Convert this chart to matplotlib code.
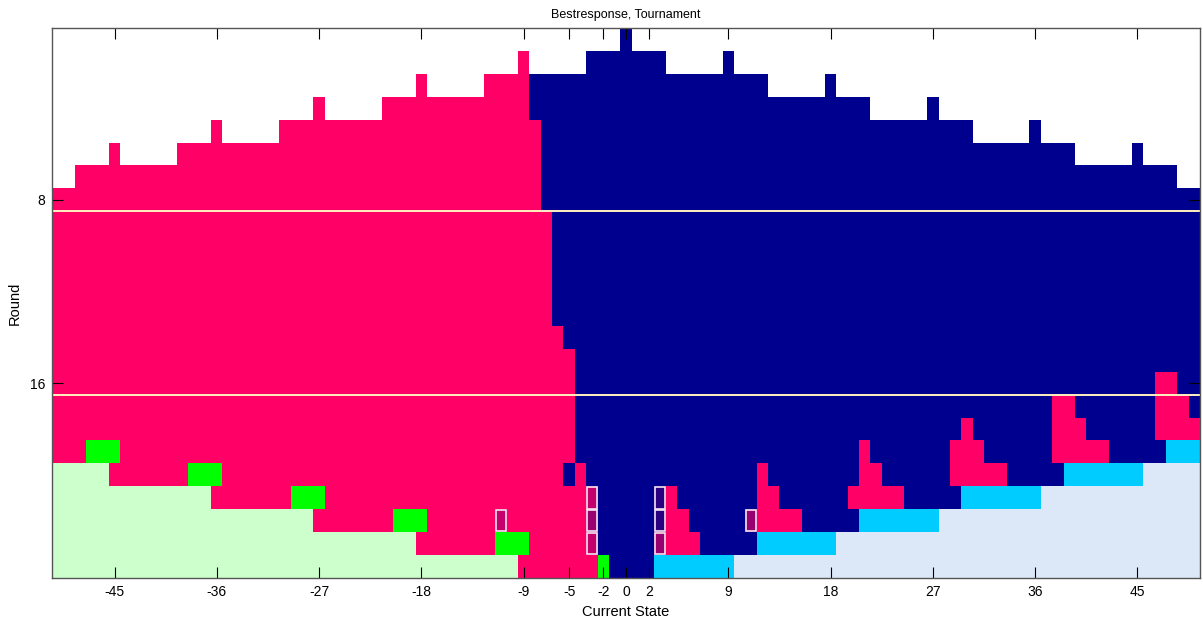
#!/usr/bin/env python3

from matplotlib import pyplot as plt
from matplotlib.colors import ListedColormap
from matplotlib.patches import Rectangle
import numpy as np


TITLE = "Bestresponse, Tournament"
X_LABEL = "Current State"
Y_LABEL = "Round"

STATES = list(range(-50, 51))
ROUNDS = list(range(1, 25))

X_TICKS = [-45, -36, -27, -18, -9, -5, -2, 0, 2, 9, 18, 27, 36, 45]
Y_TICKS = [8, 16]
SEPARATORS = [8.5, 16.5]

# cell codes, in the order of the colour map
CODES = "wrnlgcbpmv"
COLORS = [
    "#FFFFFF",  # w  no value
    "#FF0066",  # r
    "#00008F",  # n
    "#CCFFCC",  # l
    "#00FF00",  # g
    "#00CCFF",  # c
    "#DCE8F8",  # b
    "#C4006C",  # p  marked
    "#990070",  # m  marked
    "#2A0080",  # v  marked
]
MARKED = "pmv"

# one line per round, runs of (code, number of states) from -50 to 50
RUNS = [
    [("w", 50), ("n", 1), ("w", 50)],
    [("w", 41), ("r", 1), ("w", 5), ("n", 7), ("w", 5), ("n", 1), ("w", 41)],
    [("w", 32), ("r", 1), ("w", 5), ("r", 4), ("n", 21), ("w", 5), ("n", 1), ("w", 32)],
    [("w", 23), ("r", 1), ("w", 5), ("r", 13), ("n", 30), ("w", 5), ("n", 1), ("w", 23)],
    [("w", 14), ("r", 1), ("w", 5), ("r", 23), ("n", 38), ("w", 5), ("n", 1), ("w", 14)],
    [("w", 5), ("r", 1), ("w", 5), ("r", 32), ("n", 47), ("w", 5), ("n", 1), ("w", 5)],
    [("w", 2), ("r", 41), ("n", 56), ("w", 2)],
    [("r", 43), ("n", 58)],
    [("r", 44), ("n", 57)],
    [("r", 44), ("n", 57)],
    [("r", 44), ("n", 57)],
    [("r", 44), ("n", 57)],
    [("r", 44), ("n", 57)],
    [("r", 45), ("n", 56)],
    [("r", 46), ("n", 55)],
    [("r", 46), ("n", 51), ("r", 2), ("n", 2)],
    [("r", 46), ("n", 42), ("r", 2), ("n", 7), ("r", 3), ("n", 1)],
    [("r", 46), ("n", 34), ("r", 1), ("n", 7), ("r", 3), ("n", 6), ("r", 4)],
    [("r", 3), ("g", 3), ("r", 40), ("n", 25), ("r", 1), ("n", 7), ("r", 3),
     ("n", 6), ("r", 5), ("n", 5), ("c", 3)],
    [("l", 5), ("r", 7), ("g", 3), ("r", 30), ("n", 1), ("r", 1), ("n", 15),
     ("r", 1), ("n", 8), ("r", 2), ("n", 6), ("r", 5), ("n", 5), ("c", 7), ("b", 5)],
    [("l", 14), ("r", 7), ("g", 3), ("r", 23), ("p", 1), ("n", 5), ("v", 1),
     ("r", 1), ("n", 7), ("r", 2), ("n", 6), ("r", 5), ("n", 5), ("c", 7), ("b", 14)],
    [("l", 23), ("r", 7), ("g", 3), ("r", 6), ("p", 1), ("r", 7), ("m", 1),
     ("n", 5), ("v", 1), ("r", 2), ("n", 5), ("m", 1), ("r", 4), ("n", 5),
     ("c", 7), ("b", 23)],
    [("l", 32), ("r", 7), ("g", 3), ("r", 5), ("p", 1), ("n", 5), ("m", 1),
     ("r", 3), ("n", 5), ("c", 7), ("b", 32)],
    [("l", 41), ("r", 7), ("g", 1), ("n", 4), ("c", 7), ("b", 41)],
]


def main():
    grid = build_grid(RUNS)

    fig = plt.figure(figsize=(12.03, 6.26), dpi=100)
    ax = fig.add_axes([52 / 1203, 48 / 626, 1148 / 1203, 550 / 626])

    x0, x1 = STATES[0] - 0.5, STATES[-1] + 0.5
    y0, y1 = ROUNDS[0] - 0.5, ROUNDS[-1] + 0.5

    ax.imshow(
        grid,
        cmap=ListedColormap(COLORS),
        vmin=0,
        vmax=len(COLORS) - 1,
        interpolation="nearest",
        aspect="auto",
        extent=(x0, x1, y1, y0),
    )

    # outline the marked cells
    for i, r in enumerate(ROUNDS):
        for j, s in enumerate(STATES):
            if CODES[grid[i, j]] in MARKED:
                ax.add_patch(
                    Rectangle(
                        (s - 0.45, r - 0.47),
                        0.9,
                        0.94,
                        fill=False,
                        edgecolor="#F4E4F0",
                        linewidth=1.2,
                    )
                )

    for y in SEPARATORS:
        ax.axhline(y, color="#FFF0C0", linewidth=1.4)

    ax.set_xlim(x0, x1)
    ax.set_ylim(y1, y0)
    ax.set_xticks(X_TICKS)
    ax.set_yticks(Y_TICKS)
    ax.tick_params(
        direction="in",
        length=8,
        width=0.8,
        top=True,
        right=True,
        labelsize=10,
        pad=5,
    )
    for sp in ax.spines.values():
        sp.set_color("#555555")
        sp.set_linewidth(1.0)

    ax.set_title(TITLE, fontsize=9, pad=7)
    ax.set_xlabel(X_LABEL, fontsize=10.5, labelpad=4)
    ax.set_ylabel(Y_LABEL, fontsize=10.5, labelpad=6)

    fig.savefig("out.png", dpi=100)


def build_grid(runs):
    rows = []
    for row in runs:
        codes = []
        for code, n in row:
            codes.extend([CODES.index(code)] * n)
        assert len(codes) == len(STATES), len(codes)
        rows.append(codes)

    return np.array(rows)


if __name__ == "__main__":
    plt.rcParams["font.family"] = ["Liberation Sans", "DejaVu Sans"]
    plt.rcParams["axes.unicode_minus"] = False
    main()
